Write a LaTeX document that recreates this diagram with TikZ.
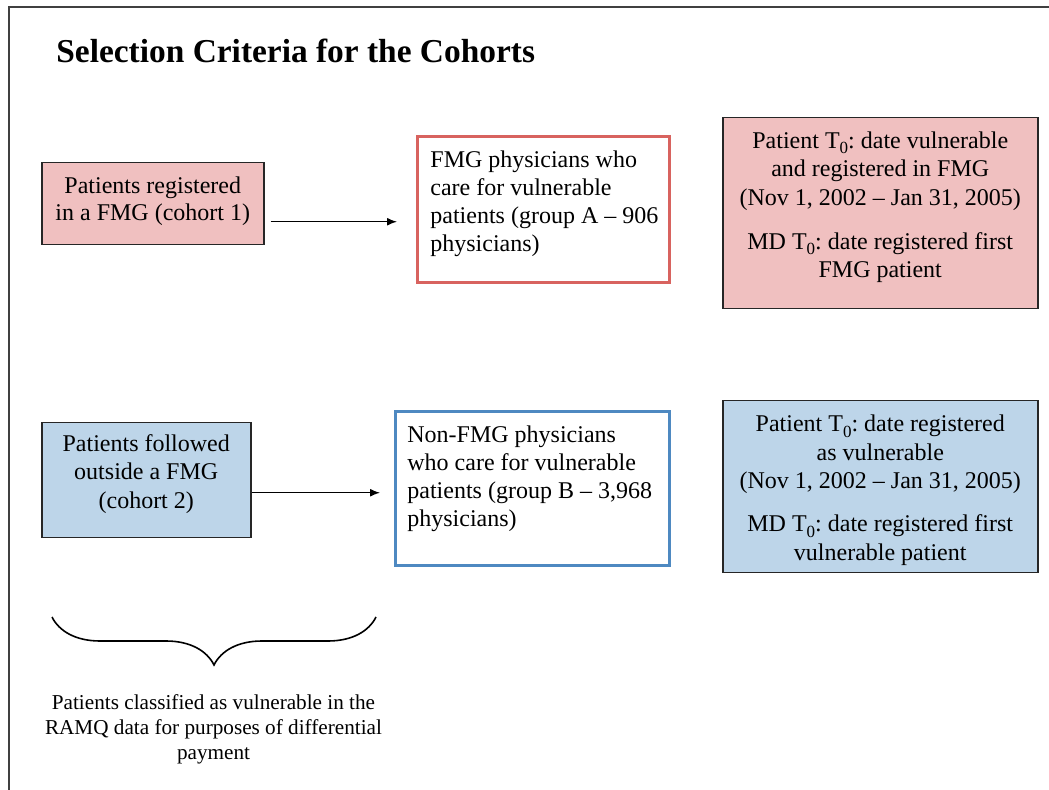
\documentclass[tikz,border=0pt]{standalone}
\usepackage{fontspec}
\setmainfont{Liberation Serif}
\usetikzlibrary{arrows.meta, decorations.pathreplacing}
\definecolor{cohortpink}{RGB}{240,192,192}
\definecolor{cohortblue}{RGB}{189,213,233}
\definecolor{grpred}{RGB}{216,99,95}
\definecolor{grpblue}{RGB}{78,137,193}
\newcommand{\tzsub}{T\raisebox{-2.8pt}{\fontsize{8.5}{8.5}\selectfont 0}}
\newcommand{\topbox}[3]{\begin{minipage}[c][#1][t]{#2}#3\end{minipage}}
\frenchspacing

\begin{document}
\begin{tikzpicture}[x=0.5pt, y=-0.5pt,
  cohort/.style={draw=black!85, line width=0.75pt, fill=#1, anchor=north west,
                 inner xsep=0pt, font=\fontsize{12}{13.4}\selectfont},
  grp/.style={draw=#1, line width=1.4pt, fill=white, anchor=north west,
              inner xsep=0pt, font=\fontsize{12}{14}\selectfont},
  tzero/.style={draw=black!85, line width=0.75pt, fill=#1, anchor=north west,
                inner xsep=0pt, font=\fontsize{12}{14.3}\selectfont},
  arr/.style={-{Latex[length=5pt, width=4pt]}, line width=0.7pt},
  note/.style={align=center, inner sep=0pt, font=\fontsize{10.6}{12.5}\selectfont}
]
\useasboundingbox (0,0) rectangle (1049,790);
\draw[black!75, line width=1pt] (9,790) |- (1049,7);
\node[anchor=base west, inner sep=0pt, font=\fontsize{16.7}{20}\selectfont\bfseries] (title)
  at (56,63) {Selection Criteria for the Cohorts};

\node[cohort=cohortpink, inner ysep=6.95pt] (p1) at (41,162)
  {\topbox{27.1pt}{111pt}{\centering Patients registered\\in a FMG (cohort 1)}};
\node[grp=grpred, inner ysep=7.05pt] (g1) at (416,135)
  {\topbox{58.9pt}{126pt}{\raggedright\leftskip=6.5pt
  FMG physicians who\\care for vulnerable\\patients (group A -- 906\\physicians)}};
\node[tzero=cohortpink, inner ysep=6.95pt] (t1) at (722,117)
  {\topbox{81.6pt}{157.5pt}{\centering
  Patient \tzsub: date vulnerable\\and registered in FMG\\(Nov 1, 2002 -- Jan 31, 2005)\\[7.5pt]
  MD \tzsub: date registered first\\FMG patient}};

\node[cohort=cohortblue, inner ysep=5.8pt, font=\fontsize{12}{14.2}\selectfont] (p2) at (41,422)
  {\topbox{45.9pt}{104.5pt}{\centering Patients followed\\outside a FMG\\(cohort 2)}};
\node[grp=grpblue, inner ysep=7.15pt] (g2) at (394,410)
  {\topbox{62.7pt}{137pt}{\raggedright\leftskip=6pt
  Non-FMG physicians\\who care for vulnerable\\patients (group B -- 3,968\\physicians)}};
\node[tzero=cohortblue, inner ysep=7.15pt] (t2) at (722,400)
  {\topbox{71.7pt}{157.5pt}{\centering
  Patient \tzsub: date registered\\as vulnerable\\(Nov 1, 2002 -- Jan 31, 2005)\\[7pt]
  MD \tzsub: date registered first\\vulnerable patient}};

\coordinate (a1) at ([yshift=-9pt]p1.east);
\coordinate (a2) at ([yshift=-6.25pt]p2.east);
\draw[arr, shorten <=3pt, shorten >=9.5pt] (a1) -- (a1 -| g1.west);
\draw[arr, shorten >=7pt] (a2) -- (a2 -| g2.west);

\coordinate (bl) at (52,617);
\coordinate (br) at (376,617);
\draw[line width=0.8pt, decorate, decoration={brace, mirror, amplitude=24pt}] (bl) -- (br);
\node[note, anchor=north] (vuln) at (213.5,694)
  {Patients classified as vulnerable in the\\RAMQ data for purposes of differential\\payment};
\end{tikzpicture}
\end{document}
